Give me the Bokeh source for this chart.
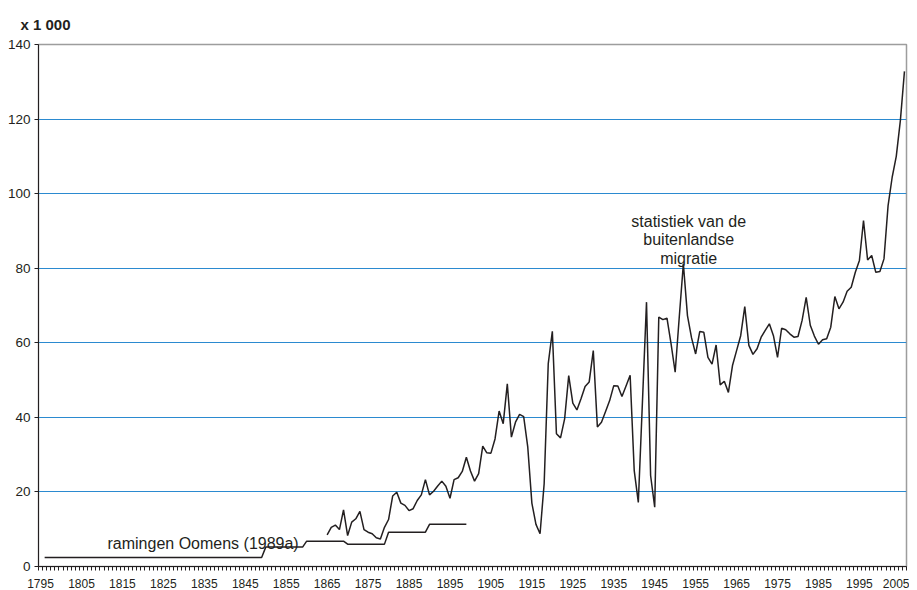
from bokeh.plotting import figure
from bokeh.models import FixedTicker, Label, Range1d
from bokeh.embed import file_html
from bokeh.resources import INLINE

# --- data (x 1 000) ---------------------------------------------------------
first_year = 1865
emigration = [
    8.5, 10.5, 11.1, 9.9, 15.2, 8.3, 11.9, 12.8, 14.8, 9.9,        # 1865-1874
    9.2, 8.8, 7.7, 7.4, 10.5, 12.6, 18.9, 19.9, 17.0, 16.4,        # 1875-1884
    15.0, 15.5, 17.7, 19.2, 23.3, 19.2, 20.2, 21.6, 22.9, 21.5,    # 1885-1894
    18.3, 23.3, 23.8, 25.5, 29.3, 25.6, 22.9, 24.9, 32.3, 30.5,    # 1895-1904
    30.4, 34.2, 41.7, 38.3, 49.0, 34.7, 38.7, 40.8, 40.2, 32.0,    # 1905-1914
    17.0, 11.3, 8.8, 22.2, 54.4, 63.1, 35.6, 34.5, 39.6, 51.2,     # 1915-1924
    43.8, 42.0, 45.0, 48.3, 49.5, 57.9, 37.4, 38.7, 41.6, 44.5,    # 1925-1934
    48.5, 48.4, 45.6, 48.4, 51.3, 25.7, 17.2, 44.0, 70.9, 24.4,    # 1935-1944
    15.9, 66.9, 66.2, 66.6, 59.7, 52.1, 66.9, 81.2, 67.3, 61.3,    # 1945-1954
    57.0, 63.0, 62.8, 56.1, 54.3, 59.4, 48.7, 49.7, 46.7, 53.9,    # 1955-1964
    57.9, 61.9, 69.7, 59.3, 56.9, 58.4, 61.5, 63.3, 65.1, 61.9,    # 1965-1974
    56.1, 63.9, 63.5, 62.4, 61.5, 61.7, 66.0, 72.2, 64.7, 61.8,    # 1975-1984
    59.6, 60.8, 61.1, 64.2, 72.4, 69.1, 70.9, 73.8, 74.9, 78.9,    # 1985-1994
    82.1, 92.8, 82.2, 83.4, 78.9, 79.1, 82.5, 96.8, 104.4, 110.0,  # 1995-2004
    119.6, 132.8,                                                  # 2005-2006
]
years = list(range(first_year, first_year + len(emigration)))

oomens_years = [1796, 1849, 1850, 1859, 1860, 1869, 1870, 1879, 1880, 1889, 1890, 1899]
oomens_values = [2.4, 2.4, 5.2, 5.2, 6.8, 6.8, 6.0, 6.0, 9.2, 9.2, 11.3, 11.3]

x_label_years = list(range(1795, 2006, 10))
y_ticks = [0, 20, 40, 60, 80, 100, 120, 140]
grid_values = [20, 40, 60, 80, 100, 120]

unit_text = "x 1 000"
oomens_text = "ramingen Oomens (1989a)"
stat_lines = ["statistiek van de", "buitenlandse", "migratie"]

# --- styling ----------------------------------------------------------------
FONT = "Liberation Sans"
INK = "#231f20"
GRID = "#2b8ad0"

p = figure(
    width=909, height=590,
    x_range=Range1d(1794.5, 2006.5), y_range=Range1d(0, 140),
    output_backend="svg", toolbar_location=None,
    min_border_left=38, min_border_right=3, min_border_top=44, min_border_bottom=24,
    background_fill_color="white", border_fill_color="white",
)

p.title.text = unit_text
p.title.align = "left"
p.title.vertical_align = "top"
p.title.offset = -18
p.title.standoff = 20
p.title.text_font = FONT
p.title.text_font_style = "bold"
p.title.text_font_size = "15px"
p.title.text_color = INK

p.outline_line_color = "#9d9d9d"
p.outline_line_width = 1.5

# x axis
p.xaxis.ticker = FixedTicker(ticks=x_label_years,
                             minor_ticks=[y - 0.5 for y in range(1795, 2008)])
p.xaxis.major_tick_out = 0
p.xaxis.major_tick_in = 0
p.xaxis.minor_tick_out = 4
p.xaxis.minor_tick_in = 0
p.xaxis.major_label_standoff = 8
p.xaxis.major_label_text_font = FONT
p.xaxis.major_label_text_font_size = "12px"
p.xaxis.major_label_text_color = INK
p.xaxis.axis_line_color = INK
p.xaxis.minor_tick_line_color = INK

# y axis
p.yaxis.ticker = FixedTicker(ticks=y_ticks, minor_ticks=[])
p.yaxis.major_tick_out = 4
p.yaxis.major_tick_in = 0
p.yaxis.minor_tick_out = 0
p.yaxis.minor_tick_in = 0
p.yaxis.major_label_standoff = 4
p.yaxis.major_label_text_font = FONT
p.yaxis.major_label_text_font_size = "13.5px"
p.yaxis.major_label_text_color = INK
p.yaxis.axis_line_color = INK
p.yaxis.major_tick_line_color = INK

# grid
p.xgrid.grid_line_color = None
p.ygrid.ticker = FixedTicker(ticks=grid_values)
p.ygrid.grid_line_color = GRID
p.ygrid.grid_line_width = 1

# lines
p.line(oomens_years, oomens_values, line_color=INK, line_width=1.5)
p.line(years, emigration, line_color=INK, line_width=1.5)

# texts
p.add_layout(Label(x=1834.7, y=6.2, text=oomens_text, text_font=FONT,
                   text_font_size="16px", text_color=INK,
                   text_align="center", text_baseline="middle"))
for txt, yv in zip(stat_lines, [92.5, 87.6, 82.7]):
    p.add_layout(Label(x=1953.3, y=yv, text=txt, text_font=FONT,
                       text_font_size="16px", text_color=INK,
                       text_align="center", text_baseline="middle"))

open("out.html", "w").write(file_html(p, INLINE))
